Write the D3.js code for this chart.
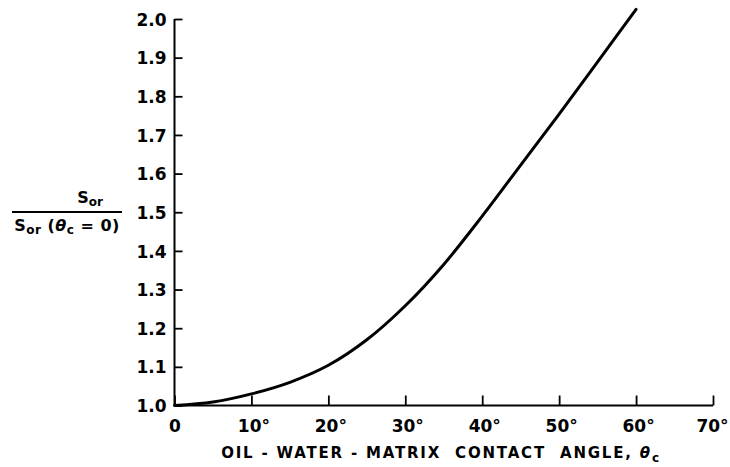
<!DOCTYPE html>
<html><head><meta charset="utf-8">
<script src="https://cdn.jsdelivr.net/npm/d3@7"></script>
<style>
body{margin:0;background:#fff;}
text{font-family:"DejaVu Sans",sans-serif;font-weight:bold;fill:#000;}
</style></head>
<body><svg id="c" width="730" height="467"></svg>
<script>
const angles = [0, 5, 10, 15, 20, 25, 30, 35, 40, 45, 50, 55, 60];
const ratio  = [1.000, 1.009, 1.030, 1.060, 1.104, 1.170, 1.258, 1.365, 1.490, 1.622, 1.754, 1.889, 2.025];
const xTicks = [0, 10, 20, 30, 40, 50, 60, 70];
const yTicks = [1.0, 1.1, 1.2, 1.3, 1.4, 1.5, 1.6, 1.7, 1.8, 1.9, 2.0];

const svg = d3.select("#c");
const x = d3.scaleLinear().domain([0, 70]).range([174.5, 713]);
const y = d3.scaleLinear().domain([1.0, 2.0]).range([405.5, 19]);

// y axis
const ya = svg.append("g").attr("transform", `translate(${x(0)},0)`)
  .call(d3.axisRight(y).tickValues(yTicks).tickSize(8).tickFormat(d3.format(".1f")));
ya.select(".domain").attr("stroke", "#000").attr("stroke-width", 2).attr("d", `M0,${y(2.0)}V${y(1.0)}`);
ya.selectAll(".tick line").attr("stroke", "#000").attr("stroke-width", 1.8);
ya.selectAll(".tick text").attr("x", -8).attr("text-anchor", "end").attr("dy", "0.36em")
  .style("font-size", "17px");

// x axis
const xa = svg.append("g").attr("transform", `translate(0,${y(1.0)})`)
  .call(d3.axisTop(x).tickValues(xTicks).tickSize(10).tickFormat(d => d === 0 ? "0" : d + "°"));
xa.select(".domain").attr("stroke", "#000").attr("stroke-width", 2).attr("d", `M${x(0)},0H${x(70)}`);
xa.selectAll(".tick line").attr("stroke", "#000").attr("stroke-width", 1.8);
xa.selectAll(".tick text").attr("y", 26).attr("dy", 0).style("font-size", "17px")
  .attr("dx", d => d === 70 ? -1 : (d === 0 ? 0 : 2));

// curve
const pts = angles.map((a, i) => [a, ratio[i]]);
svg.append("path").datum(pts)
  .attr("fill", "none").attr("stroke", "#000").attr("stroke-width", 3).attr("stroke-linecap", "round")
  .attr("d", d3.line().x(d => x(d[0])).y(d => y(d[1])).curve(d3.curveCatmullRom.alpha(0.5)));

// x title
const xt = svg.append("text").attr("x", 441).attr("y", 458).attr("text-anchor", "middle")
  .style("font-size", "15px").style("letter-spacing", "1.8px").style("white-space", "pre");
xt.append("tspan").text("OIL - WATER - MATRIX  CONTACT  ANGLE, ");
xt.append("tspan").text("θ").style("font-style", "italic");
xt.append("tspan").text("c").attr("dy", 4).style("font-size", "12px");

// y title (fraction)
const num = svg.append("text").attr("x", 90).attr("y", 203).attr("text-anchor", "middle").style("font-size", "16px");
num.append("tspan").text("S");
num.append("tspan").text("or").attr("dy", 3).style("font-size", "12px");
svg.append("line").attr("x1", 12).attr("x2", 122).attr("y1", 212).attr("y2", 212)
  .attr("stroke", "#000").attr("stroke-width", 1.8);
const den = svg.append("text").attr("x", 67).attr("y", 231).attr("text-anchor", "middle").style("font-size", "16px")
  .style("white-space", "pre").style("letter-spacing", "0.5px");
den.append("tspan").text("S");
den.append("tspan").text("or").attr("dy", 3).style("font-size", "12px");
den.append("tspan").text(" (").attr("dy", -3);
den.append("tspan").text("θ").style("font-style", "italic");
den.append("tspan").text("c").attr("dy", 3).style("font-size", "12px");
den.append("tspan").text(" = 0)").attr("dy", -3);
</script></body></html>
